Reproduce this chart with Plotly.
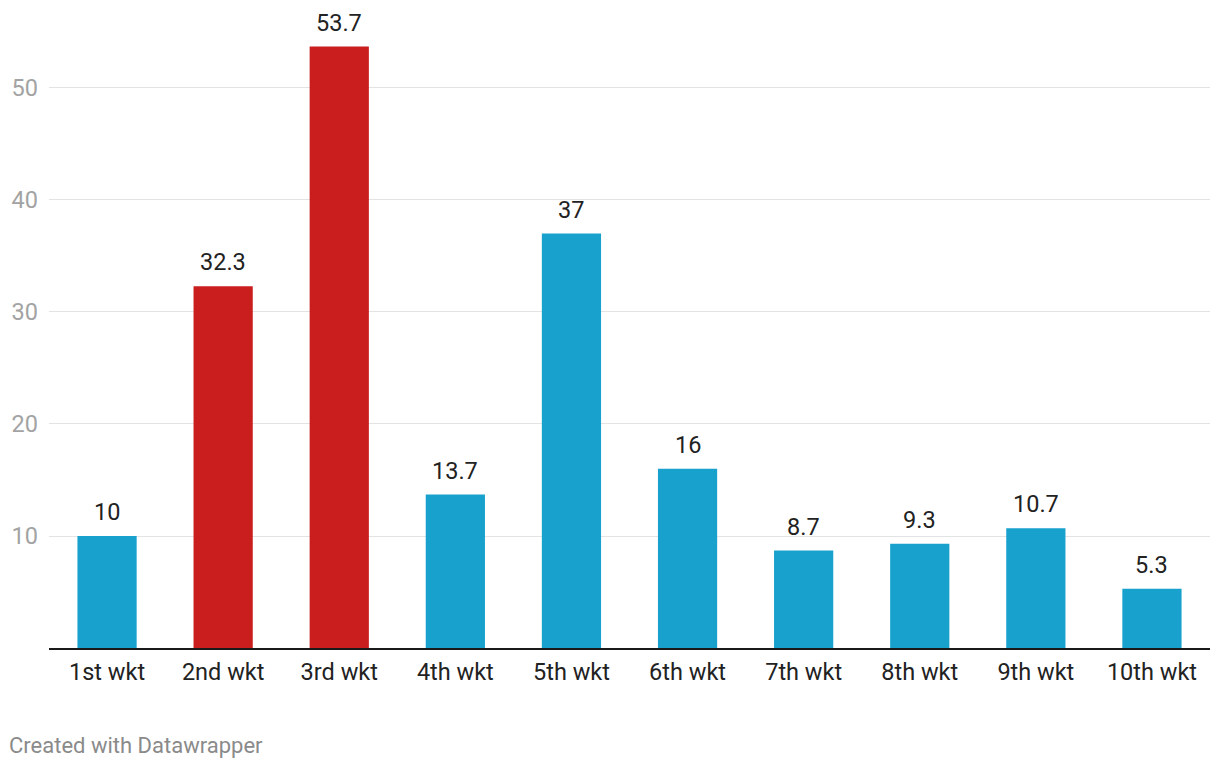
import plotly.graph_objects as go

categories = ["1st wkt", "2nd wkt", "3rd wkt", "4th wkt", "5th wkt",
              "6th wkt", "7th wkt", "8th wkt", "9th wkt", "10th wkt"]
values = [10, 32.3, 53.7, 13.7, 37, 16, 8.7, 9.3, 10.7, 5.3]
highlight = [False, True, True, False, False, False, False, False, False, False]
value_labels = ["10", "32.3", "53.7", "13.7", "37", "16", "8.7", "9.3", "10.7", "5.3"]
y_ticks = [10, 20, 30, 40, 50]

BLUE = "#18a1cd"
RED = "#c91d1e"
colors = [RED if h else BLUE for h in highlight]

FS = 23.5

fig = go.Figure()
fig.add_trace(go.Bar(
    x=categories, y=values, marker=dict(color=colors, line=dict(width=0)),
    width=0.51, hoverinfo="skip",
))

for c, v, lab in zip(categories, values, value_labels):
    fig.add_annotation(x=c, y=v, text=lab, showarrow=False, yanchor="bottom",
                       yshift=8, font=dict(family="Roboto", size=FS, color="#222222"))

fig.add_annotation(xref="paper", yref="paper", x=-0.0365, y=-0.1545,
                   xanchor="left", yanchor="middle", showarrow=False,
                   text="Created with Datawrapper",
                   font=dict(family="Roboto", size=22, color="#8a8a8a"))

fig.update_layout(
    width=1212, height=760,
    margin=dict(l=41, r=10, t=12, b=120, autoexpand=False),
    paper_bgcolor="white", plot_bgcolor="white",
    showlegend=False,
    bargap=0.49,
    font=dict(family="Roboto"),
)
fig.update_xaxes(
    showgrid=False, showline=True, linecolor="#1a1a1a", linewidth=2,
    tickfont=dict(family="Roboto", size=FS, color="#222222"),
    ticks="", ticklabelstandoff=2, fixedrange=True, automargin=False,
)
fig.update_yaxes(
    range=[0, 56.07], tickvals=y_ticks, showgrid=True, gridcolor="#e3e3e3",
    gridwidth=1, zeroline=False, showline=False,
    tickfont=dict(family="Roboto", size=FS, color="#a3a3a3"),
    ticks="", ticklabelstandoff=10, fixedrange=True, automargin=False,
)

fig.write_html("out.html", config={"displayModeBar": False})
